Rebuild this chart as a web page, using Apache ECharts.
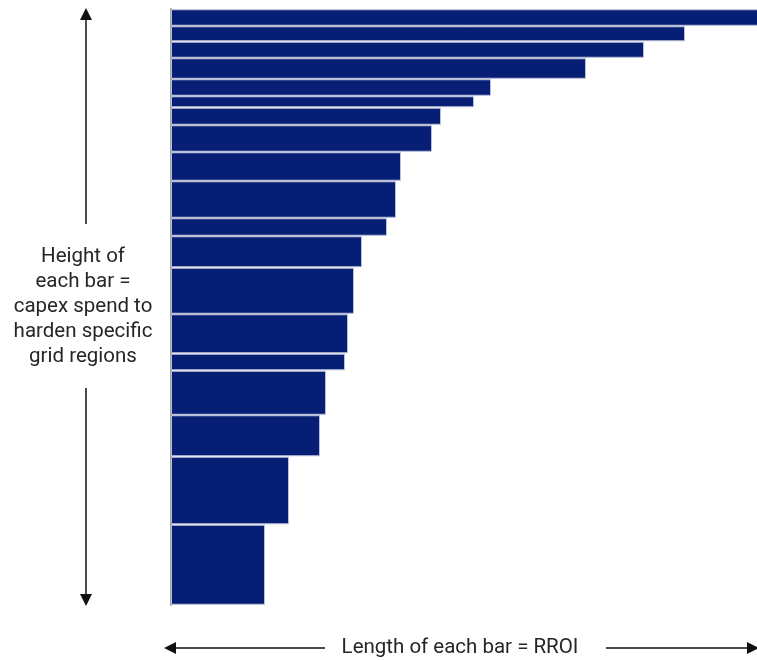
<!DOCTYPE html>
<html>
<head>
<meta charset="utf-8">
<style>
  html, body { margin: 0; padding: 0; background: #fff; }
  #chart { width: 757px; height: 660px; }
</style>
<script src="https://cdn.jsdelivr.net/npm/echarts@6/dist/echarts.min.js"></script>
</head>
<body>
<div id="chart"></div>
<script>
// Grid regions, ranked by return on investment (top = highest RROI)
const regions = ['R1','R2','R3','R4','R5','R6','R7','R8','R9','R10','R11','R12','R13','R14','R15','R16','R17','R18','R19'];
// Bar length: risk-reduced return on investment
const rroi = [5.86, 5.13, 4.72, 4.14, 3.19, 3.02, 2.69, 2.60, 2.29, 2.24, 2.15, 1.90, 1.82, 1.76, 1.73, 1.54, 1.48, 1.17, 0.93];
// Bar height: capex spend to harden each region
const capex = [17, 15.5, 16.5, 21, 17, 11.5, 17.5, 27, 29, 37, 18, 31.5, 46.5, 39.5, 17, 44.5, 41.5, 68, 80.5];

const FONT = 'Roboto, "Noto Sans", sans-serif';

// Stack the bars: each spans [start, start + capex] on the vertical scale
const rows = [];
let acc = 0;
for (let i = 0; i < regions.length; i++) {
  rows.push([rroi[i], acc, acc + capex[i], regions[i]]);
  acc += capex[i];
}
const totalCapex = acc;

const chart = echarts.init(document.getElementById('chart'), null, { renderer: 'canvas' });

function renderBar(params, api) {
  const topLeft = api.coord([0, api.value(1)]);
  const bottomRight = api.coord([api.value(0), api.value(2)]);
  const x = topLeft[0] + 0.5;
  const y = topLeft[1] + 0.75;
  const w = bottomRight[0] - topLeft[0];
  const h = bottomRight[1] - topLeft[1] - 1.5;
  return {
    type: 'rect',
    shape: { x: x, y: y, width: w, height: h },
    style: { fill: '#061f74', stroke: '#b8bfd8', lineWidth: 1 }
  };
}

// Annotation arrows and captions
const arrowColor = '#111';
const textColor = '#262626';
const graphics = [
  // vertical arrow: top segment
  { type: 'line', shape: { x1: 86, y1: 18, x2: 86, y2: 224 }, style: { stroke: arrowColor, lineWidth: 1.5 } },
  { type: 'polygon', shape: { points: [[86, 8], [80, 20], [92, 20]] }, style: { fill: arrowColor } },
  // vertical arrow: bottom segment
  { type: 'line', shape: { x1: 86, y1: 388, x2: 86, y2: 596 }, style: { stroke: arrowColor, lineWidth: 1.5 } },
  { type: 'polygon', shape: { points: [[86, 606], [80, 594], [92, 594]] }, style: { fill: arrowColor } },
  {
    type: 'text',
    style: {
      text: 'Height of\neach bar =\ncapex spend to\nharden specific\ngrid regions',
      x: 83, y: 307,
      font: '20.5px ' + FONT, fill: textColor, align: 'center', verticalAlign: 'middle', lineHeight: 25
    }
  },
  // horizontal arrow
  { type: 'line', shape: { x1: 174, y1: 648, x2: 325, y2: 648 }, style: { stroke: arrowColor, lineWidth: 1.5 } },
  { type: 'polygon', shape: { points: [[164, 648], [176, 642], [176, 654]] }, style: { fill: arrowColor } },
  { type: 'line', shape: { x1: 606, y1: 648, x2: 748, y2: 648 }, style: { stroke: arrowColor, lineWidth: 1.5 } },
  { type: 'polygon', shape: { points: [[759, 648], [747, 642], [747, 654]] }, style: { fill: arrowColor } },
  {
    type: 'text',
    style: {
      text: 'Length of each bar = RROI', x: 460, y: 648,
      font: '20.5px ' + FONT, fill: textColor, align: 'center', verticalAlign: 'middle'
    }
  }
];

chart.setOption({
  animation: false,
  backgroundColor: '#fff',
  grid: { left: 171, right: 0, top: 9, bottom: 660 - 605, containLabel: false },
  xAxis: {
    type: 'value', min: 0, max: rroi[0],
    show: false
  },
  yAxis: {
    type: 'value', min: 0, max: totalCapex, inverse: true,
    axisLine: { show: true, lineStyle: { color: '#a3a3a3', width: 2 } },
    axisTick: { show: false },
    axisLabel: { show: false },
    splitLine: { show: false }
  },
  series: [{
    type: 'custom',
    renderItem: renderBar,
    encode: { x: 0, y: [1, 2] },
    data: rows,
    z: 1
  }],
  graphic: graphics
});
</script>
</body>
</html>
